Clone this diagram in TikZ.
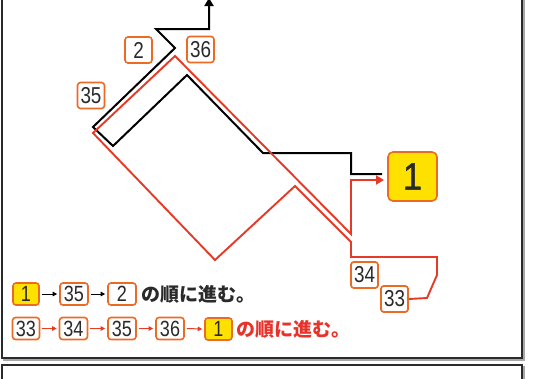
\documentclass[tikz,border=0pt]{standalone}
\usepackage{fontspec}
\usetikzlibrary{arrows.meta}
\newfontfamily\jp{Noto Sans CJK JP}
\newfontfamily\dig[FakeStretch=0.82]{Liberation Sans}
\newfontfamily\bigdig[FakeStretch=0.9,FakeBold=1.2]{Liberation Sans}
\definecolor{framec}{HTML}{2B2B2B}
\definecolor{shadowc}{HTML}{A8A8A8}
\definecolor{orng}{HTML}{EC6A24}
\definecolor{redl}{HTML}{E63A26}
\definecolor{redt}{HTML}{E8322A}
\definecolor{yel}{HTML}{FFE100}
\definecolor{txt}{HTML}{2A2A2A}
\begin{document}
\begin{tikzpicture}[x=1pt,y=-1pt,
  lbl/.style={draw=orng, line width=1.6pt, rounded corners=3pt, fill=white,
    minimum width=27pt, minimum height=26pt, inner sep=0pt,
    font=\dig\fontsize{23}{23}\selectfont, text=txt},
  leg/.style={lbl, minimum height=22pt, minimum width=27pt, font=\dig\fontsize{22}{22}\selectfont},
  yelbox/.style={fill=yel},
  bpath/.style={draw=black, line width=2pt},
  rpath/.style={draw=redl, line width=1.9pt},
  legarrow/.style={line width=1pt, -{Triangle[length=4.5pt,width=4.5pt]}},
  jtext/.style={font=\jp\bfseries\fontsize{19}{19}\selectfont, inner sep=0pt, anchor=west}
]
\useasboundingbox (0,0) rectangle (553,378);
% frames
\draw[shadowc, line width=2pt] (3.5,-10) rectangle (523.5,359.5);
\draw[framec, line width=2pt, fill=white] (2,-10) rectangle (522,358);
\draw[shadowc, line width=2pt] (3.5,366.5) rectangle (523.5,390);
\draw[framec, line width=2pt, fill=white] (2,365) rectangle (522,390);

% big destination box
\node[lbl, yelbox, minimum width=49pt, minimum height=49pt, rounded corners=5pt,
  font=\bigdig\fontsize{38}{38}\selectfont] (n1) at (412.5,176.5) {1};

% black route: 1 -> 35 -> 2
\coordinate (b0) at (382,174);
\coordinate (btop) at (209,-2);
\draw[bpath, line join=miter, -{Triangle[length=8pt,width=9pt]}]
  (b0) -- (351,174) -- (351,153) -- (263,153) -- (187,75) -- (113,146)
  -- (93,127) -- (175,48) -- (156,29) -- (209,29) -- (btop);

% labels along the route
\node[lbl] (m33) at (394.5,299) {33};
\node[lbl] (m34) at (364.5,275) {34};

% red route: 33 -> 34 -> 35 -> 36 -> 1
\coordinate (rend) at (384,180);
\draw[rpath, line join=miter, -{Triangle[length=8pt,width=9pt]}]
  (m33.east) -- (427,298) -- (437,275) -- (437,257) -- (351,257) -- (351,242)
  -- (295,186) -- (215,260) -- (93,133) -- (175,56) -- (351,234)
  -- (351,180) -- (rend);

\node[lbl] (m2) at (138.5,50) {2};
\node[lbl] (m36) at (200.5,49.5) {36};
\node[lbl] (m35) at (91,95.5) {35};
\node[lbl] (m33) at (394.5,299) {33};
\node[lbl] (m34) at (364.5,275) {34};

% legend row 1
\node[leg, yelbox, minimum width=26pt] (a1) at (26,294) {1};
\node[leg, minimum width=28pt] (a35) at (74,294) {35};
\node[leg, minimum width=28pt] (a2) at (122,294) {2};
\draw[legarrow, black] ([xshift=2pt]a1.east) -- ([xshift=-2pt]a35.west);
\draw[legarrow, black] ([xshift=2pt]a35.east) -- ([xshift=-2pt]a2.west);
\node[jtext, text=txt] (t1) at (141,294) {の順に進む。};

% legend row 2
\node[leg] (c33) at (26,328.5) {33};
\node[leg, minimum width=28pt] (c34) at (73.5,328.5) {34};
\node[leg, minimum width=28pt] (c35) at (122,328.5) {35};
\node[leg, minimum width=28pt] (c36) at (170,328.5) {36};
\node[leg, yelbox] (c1) at (218.5,329) {1};
\draw[legarrow, redl] ([xshift=2pt]c33.east) -- ([xshift=-2pt]c34.west);
\draw[legarrow, redl] ([xshift=2pt]c34.east) -- ([xshift=-2pt]c35.west);
\draw[legarrow, redl] ([xshift=2pt]c35.east) -- ([xshift=-2pt]c36.west);
\draw[legarrow, redl] ([xshift=2pt]c36.east) -- ([xshift=-2pt]c1.west);
\node[jtext, text=redt] (t2) at (236,329) {の順に進む。};
\end{tikzpicture}
\end{document}
